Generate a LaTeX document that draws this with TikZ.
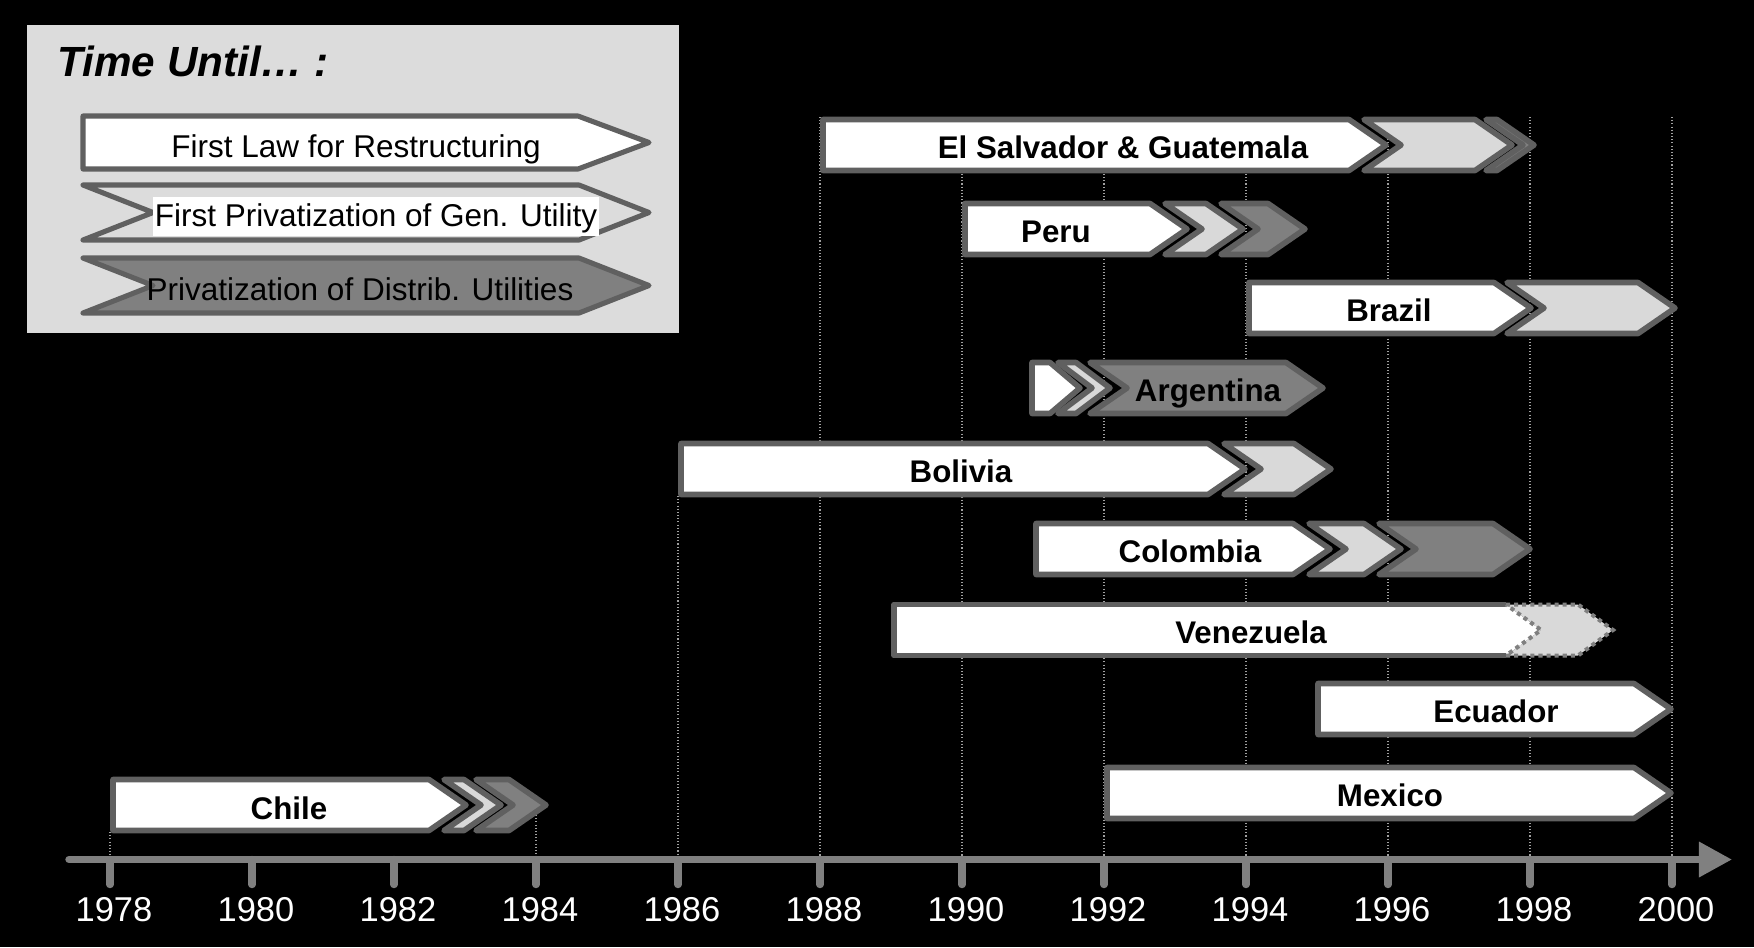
\documentclass[tikz,border=0pt]{standalone}
\usepackage{fontspec}
\setmainfont{Liberation Sans}
\usetikzlibrary{arrows.meta}

\definecolor{edgegray}{HTML}{606060}
\definecolor{lightfill}{HTML}{D9D9D9}
\definecolor{darkfill}{HTML}{808080}
\definecolor{legendbg}{HTML}{DCDCDC}
\definecolor{axisgray}{HTML}{808080}
\definecolor{gridgray}{HTML}{A0A0A0}

% arrow segment: style, left x, tip x, centre y, tip depth
\newcommand{\tlArrow}[5]{\draw[#1] (#2,#4-25.5) -- (#3-#5,#4-25.5) -- (#3,#4) -- (#3-#5,#4+25.5) -- (#2,#4+25.5) -- cycle;}
% chevron segment: style, left x, tip x, centre y, notch/tip depth
\newcommand{\tlChevron}[5]{\draw[#1] (#2,#4-25.5) -- (#3-#5,#4-25.5) -- (#3,#4) -- (#3-#5,#4+25.5) -- (#2,#4+25.5) -- (#2+#5,#4) -- cycle;}

\begin{document}
\begin{tikzpicture}[x=0.01cm, y=-0.01cm,
  seg/.style={draw=edgegray, line width=1.6pt, line join=round},
  segwhite/.style={seg, fill=white},
  seglight/.style={seg, fill=lightfill},
  segdark/.style={seg, fill=darkfill},
  segdotted/.style={draw=darkfill, fill=lightfill, line width=1.15pt, dash pattern=on 1.15pt off 1.15pt, line join=miter},
  gridline/.style={draw=gridgray, line width=0.35pt, dash pattern=on 0.3pt off 0.6pt},
  axisline/.style={draw=axisgray, line width=2.1pt, line cap=round},
  tickmark/.style={draw=axisgray, line width=2.1pt, line cap=round},
  barlabel/.style={font=\fontsize{8.9pt}{10pt}\selectfont\bfseries, text height=6.37pt, text depth=0pt, inner sep=0pt},
  legendtext/.style={font=\fontsize{8.96pt}{10pt}\selectfont, text height=6.4pt, text depth=0pt, inner sep=0pt},
  yeartext/.style={text=white, font=\fontsize{9.8pt}{11pt}\selectfont, text height=7pt, text depth=0pt, inner sep=0pt},
  titletext/.style={font=\fontsize{12pt}{14pt}\selectfont\bfseries\itshape, text height=8.6pt, text depth=0pt, inner sep=0pt}
]
\fill[black] (0,0) rectangle (1754,947);
\useasboundingbox (0,0) rectangle (1754,947);

% dotted year guides
\foreach \yr/\top in {1978/832, 1984/815, 1986/496, 1988/117, 1990/117, 1992/117, 1994/117, 1996/117, 1998/117, 2000/117}
  \draw[gridline] ({110+71*(\yr-1978)},\top) -- ({110+71*(\yr-1978)},857);

% legend
\fill[legendbg] (27,25) rectangle (679,333);
\node[titletext, anchor=west] (title) at (57,61) {Time Until… :};
\draw[seg, fill=white, line width=1.45pt] (83,116) -- (578,116) -- (649,142.5) -- (578,169) -- (83,169) -- cycle;
\draw[seg, fill=legendbg, line width=1.45pt] (83,185) -- (579,185) -- (649,212.5) -- (579,240) -- (83,240) -- (153,212.5) -- cycle;
\draw[seg, fill=darkfill, line width=1.45pt] (83,258) -- (579,258) -- (649,285.5) -- (579,313) -- (83,313) -- (153,285.5) -- cycle;
\node[legendtext] (leglaw) at (356,146) {First Law for Restructuring};
\node[font=\fontsize{8.96pt}{10pt}\selectfont, fill=white, text height=7.6pt, text depth=2.2pt, inner xsep=0.6pt, inner ysep=0.6pt] (leggen) at (376,216.5) {First Privatization of Gen. Utility};
\node[legendtext] (legdist) at (360,289) {Privatization of Distrib. Utilities};

% El Salvador & Guatemala
\tlArrow{segwhite}{823}{1386}{145}{37}
\tlChevron{seglight}{1364}{1512}{145}{37}
\tlChevron{segdark}{1486}{1534}{145}{37}
\node[barlabel] (elsalvador) at (1123,147) {El Salvador \& Guatemala};

% Peru
\tlArrow{segwhite}{965}{1187}{229}{37}
\tlChevron{seglight}{1165}{1243}{229}{37}
\tlChevron{segdark}{1221}{1305}{229}{37}
\node[barlabel] (peru) at (1056,231) {Peru};

% Brazil
\tlArrow{segwhite}{1249}{1531}{308}{37}
\tlChevron{seglight}{1507}{1675}{308}{37}
\node[barlabel] (brazil) at (1389,310) {Brazil};

% Argentina
\tlArrow{segwhite}{1032}{1080}{388}{30}
\tlChevron{seglight}{1058}{1110}{388}{34}
\tlChevron{segdark}{1090}{1323}{388}{37}
\node[barlabel] (argentina) at (1208,390) {Argentina};

% Bolivia
\tlArrow{segwhite}{681}{1245}{469}{37}
\tlChevron{seglight}{1224}{1331}{469}{37}
\node[barlabel] (bolivia) at (961,471) {Bolivia};

% Colombia
\tlArrow{segwhite}{1036}{1330}{549}{37}
\tlChevron{seglight}{1309}{1401}{549}{37}
\tlChevron{segdark}{1379}{1530}{549}{37}
\node[barlabel] (colombia) at (1190,551) {Colombia};

% Venezuela: solid body, dotted planned step
\fill[white] (894,604.5) -- (1506,604.5) -- (1541,630) -- (1506,655.5) -- (894,655.5) -- cycle;
\draw[seg] (1506,604.5) -- (894,604.5) -- (894,655.5) -- (1506,655.5);
\tlChevron{segdotted}{1506}{1613}{630}{35}
\node[barlabel] (venezuela) at (1251,632) {Venezuela};

% Ecuador
\tlArrow{segwhite}{1318}{1671}{709}{37}
\node[barlabel] (ecuador) at (1496,711) {Ecuador};

% Mexico
\tlArrow{segwhite}{1107}{1671}{793}{37}
\node[barlabel] (mexico) at (1390,795) {Mexico};

% Chile
\tlArrow{segwhite}{113}{466}{805}{37}
\tlChevron{seglight}{444}{501}{805}{37}
\tlChevron{segdark}{476}{546}{805}{37}
\node[barlabel] (chile) at (289,808) {Chile};

% time axis
\coordinate (axstart) at (69,859.5);
\coordinate (axend) at (1732,859.5);
\draw[axisline, -{Triangle[length=9.4pt, width=9.6pt]}] (axstart) -- (axend);
\foreach \yr in {1978,1980,...,2000} {
  \coordinate (t\yr) at ({110+71*(\yr-1978)},859.5);
  \draw[tickmark] (t\yr) -- ++(0,25);
  \node[yeartext] (lbl\yr) at ({114+71*(\yr-1978)},909) {\yr};
}
\end{tikzpicture}
\end{document}
